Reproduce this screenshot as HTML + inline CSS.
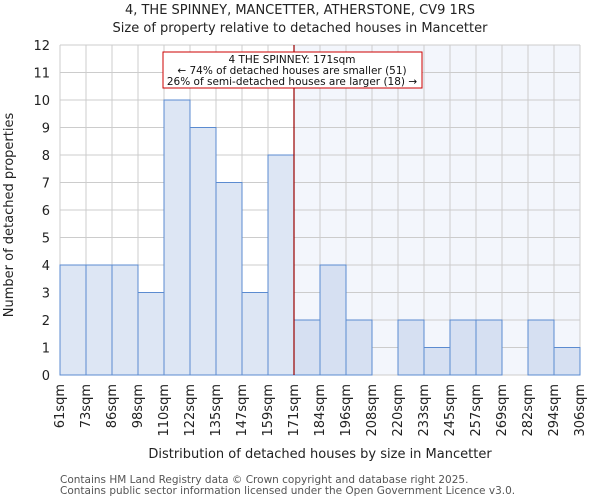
<!DOCTYPE html>
<html><head><meta charset="utf-8"><style>
body{margin:0;background:#fff;font-family:"DejaVu Sans","Liberation Sans",sans-serif}
</style></head><body>
<svg width="600" height="500" xmlns="http://www.w3.org/2000/svg" font-family="DejaVu Sans, Liberation Sans, sans-serif">
<g id="g"></g>
</svg>
<script>
const categories=["61sqm","73sqm","86sqm","98sqm","110sqm","122sqm","135sqm","147sqm","159sqm","171sqm","184sqm","196sqm","208sqm","220sqm","233sqm","245sqm","257sqm","269sqm","282sqm","294sqm","306sqm"];
const counts=[4,4,4,3,10,9,7,3,8,2,4,2,0,2,1,2,2,0,2,1];
const yTicks=[0,1,2,3,4,5,6,7,8,9,10,11,12];
const highlightIndex=9;
const X0=60,X1=580,Y0=375,Y1=45,yMax=12;
const bw=(X1-X0)/counts.length;
const x=i=>X0+i*bw;
const y=v=>Y0-(v/yMax)*(Y0-Y1);
const g=document.getElementById('g');
const NS="http://www.w3.org/2000/svg";
function mk(t,a,txt){const e=document.createElementNS(NS,t);for(const k in a)e.setAttribute(k,a[k]);if(txt!=null)e.textContent=txt;g.appendChild(e);return e;}
let e;
e=mk('rect',{x:x(highlightIndex),y:Y1,width:X1-x(highlightIndex),height:Y0-Y1,fill:'#f3f6fc'});


yTicks.forEach(t=>{
e=mk('line',{x1:X0,x2:X1,y1:y(t),y2:y(t),stroke:'#cccccc','stroke-width':1});


e=mk('text',{x:X0-10,y:y(t)+5,'text-anchor':'end','font-size':13,fill:'#222'},t);


});
categories.forEach((c,i)=>{
e=mk('line',{x1:x(i),x2:x(i),y1:Y1,y2:Y0,stroke:'#cccccc','stroke-width':1});


const tx=x(i)+4;
e=mk('text',{x:0,y:0,transform:`translate(${tx},384) rotate(-90)`,'text-anchor':'end','font-size':13,fill:'#222'},c);


});
counts.forEach((v,i)=>{
if(v<=0)return;
e=mk('rect',{x:x(i),y:y(v),width:bw,height:Y0-y(v),fill:i>=highlightIndex?'#d6e0f2':'#dde6f4',stroke:'#5b8bd0','stroke-width':1});


});
e=mk('line',{x1:x(highlightIndex),x2:x(highlightIndex),y1:Y1,y2:Y0,stroke:'#990000','stroke-width':1.2});


e=mk('rect',{x:163,y:52,width:259,height:36,fill:'#fff',stroke:'#cc0000','stroke-width':1});


[["4 THE SPINNEY: 171sqm",63],["← 74% of detached houses are smaller (51)",74],["26% of semi-detached houses are larger (18) →",85]].forEach(([t,yy])=>{
e=mk('text',{x:292,y:yy,'text-anchor':'middle','font-size':10.5,fill:'#111'},t);


});
e=mk('text',{x:300,y:14,'text-anchor':'middle','font-size':13,fill:'#222'},"4, THE SPINNEY, MANCETTER, ATHERSTONE, CV9 1RS");


e=mk('text',{x:300,y:32,'text-anchor':'middle','font-size':13,fill:'#222'},"Size of property relative to detached houses in Mancetter");


e=mk('text',{x:0,y:0,transform:'translate(13,215) rotate(-90)','text-anchor':'middle','font-size':13,fill:'#222'},"Number of detached properties");


e=mk('text',{x:320,y:458,'text-anchor':'middle','font-size':13,fill:'#222'},"Distribution of detached houses by size in Mancetter");


e=mk('text',{x:60,y:483,'font-size':10.5,fill:'#555'},"Contains HM Land Registry data © Crown copyright and database right 2025.");


e=mk('text',{x:60,y:494,'font-size':10.5,fill:'#555'},"Contains public sector information licensed under the Open Government Licence v3.0.");


</script>
</body></html>
